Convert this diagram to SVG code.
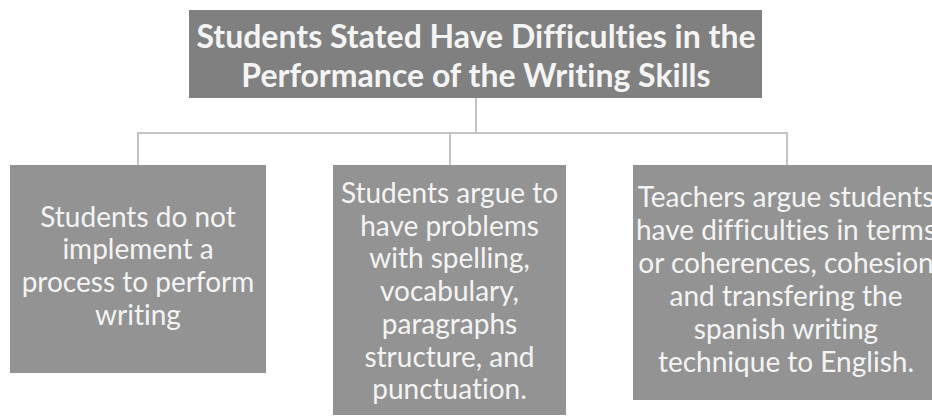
<svg xmlns="http://www.w3.org/2000/svg" width="932" height="418" viewBox="0 0 932 418">
<style>
.box{fill:#939393}
.top{fill:#808080}
.t{font-family:Lato,"Open Sans",sans-serif;fill:#f4f4f4;text-anchor:middle;font-size:28px;font-variant-ligatures:none}
.tb{font-family:Lato,"Open Sans",sans-serif;fill:#f4f4f4;text-anchor:middle;font-size:32px;font-weight:bold;font-variant-ligatures:none}
.c{fill:none;stroke:#c3c3c3;stroke-width:2}
</style>
<rect width="932" height="418" fill="#ffffff"/>
<g id="connectors">
<path class="c" d="M476 98V133M138 133H787M138 132V165M450 132V165M787 132V165"/>
</g>
<g id="root">
<rect class="top" x="189" y="10" width="573" height="88"/>
<text class="tb" x="476" y="48">Students Stated Have Difficulties in the</text>
<text class="tb" x="476" y="87">Performance of the Writing Skills</text>
</g>
<g id="n1">
<rect class="box" x="10" y="165" width="256" height="208"/>
<text class="t" x="138" y="227">Students do not</text>
<text class="t" x="138" y="259">implement a</text>
<text class="t" x="138" y="292">process to perform</text>
<text class="t" x="138" y="325">writing</text>
</g>
<g id="n2">
<rect class="box" x="333" y="165" width="233" height="250"/>
<text class="t" x="449.5" y="203">Students argue to</text>
<text class="t" x="449.5" y="236">have problems</text>
<text class="t" x="449.5" y="268">with spelling,</text>
<text class="t" x="449.5" y="301">vocabulary,</text>
<text class="t" x="449.5" y="334">paragraphs</text>
<text class="t" x="449.5" y="367">structure, and</text>
<text class="t" x="449.5" y="399">punctuation.</text>
</g>
<g id="n3">
<rect class="box" x="633" y="165" width="310" height="235"/>
<text class="t" x="786" y="207">Teachers argue students</text>
<text class="t" x="786" y="240">have difficulties in terms</text>
<text class="t" x="786" y="273">or coherences, cohesion</text>
<text class="t" x="786" y="306">and transfering the</text>
<text class="t" x="786" y="339">spanish writing</text>
<text class="t" x="786" y="372">technique to English.</text>
</g>
</svg>
